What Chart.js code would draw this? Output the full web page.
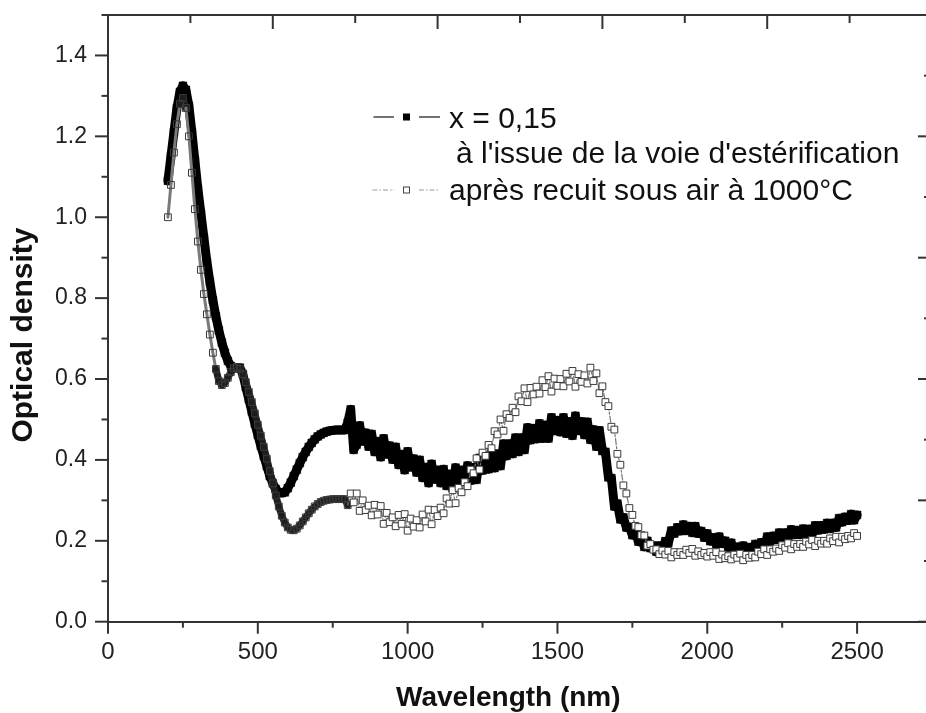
<!DOCTYPE html>
<html><head><meta charset="utf-8">
<script src="https://cdn.jsdelivr.net/npm/chart.js@4.4.1/dist/chart.umd.min.js"></script>
<style>html,body{margin:0;padding:0;overflow:hidden;background:#fff}#wrap{position:relative;width:940px;height:713px}</style>
</head><body><div id="wrap"><canvas id="c"></canvas></div>
<script>
// ---- data ----
const wavelengths = [
 200,210,220,230,240,250,260,270,280,290, 300,310,320,330,340,350,360,370,380,390,
 400,410,420,430,440,450,460,470,480,490, 500,510,520,530,540,550,560,570,580,590,
 600,610,620,630,640,650,660,670,680,690, 700,710,720,730,740,750,760,770,780,790,
 800,810,820,830,840,850,860,870,880,890, 900,910,920,930,940,950,960,970,980,990,
 1000,1010,1020,1030,1040,1050,1060,1070,1080,1090, 1100,1110,1120,1130,1140,1150,1160,1170,1180,1190,
 1200,1210,1220,1230,1240,1250,1260,1270,1280,1290, 1300,1310,1320,1330,1340,1350,1360,1370,1380,1390,
 1400,1410,1420,1430,1440,1450,1460,1470,1480,1490, 1500,1510,1520,1530,1540,1550,1560,1570,1580,1590,
 1600,1610,1620,1630,1640,1650,1660,1670,1680,1690, 1700,1710,1720,1730,1740,1750,1760,1770,1780,1790,
 1800,1810,1820,1830,1840,1850,1860,1870,1880,1890, 1900,1910,1920,1930,1940,1950,1960,1970,1980,1990,
 2000,2010,2020,2030,2040,2050,2060,2070,2080,2090, 2100,2110,2120,2130,2140,2150,2160,2170,2180,2190,
 2200,2210,2220,2230,2240,2250,2260,2270,2280,2290, 2300,2310,2320,2330,2340,2350,2360,2370,2380,2390,
 2400,2410,2420,2430,2440,2450,2460,2470,2480,2490, 2500
];
// x = 0,15 as obtained by the esterification route
const odEsterification = [
 1.09,1.15,1.21,1.27,1.31,1.325,1.315,1.275,1.21,1.14,
 1.07,1.01,0.95,0.89,0.84,0.795,0.755,0.72,0.69,0.665,
 0.645,0.632,0.627,0.628,0.628,0.612,0.58,0.55,0.52,0.49,
 0.462,0.435,0.41,0.385,0.36,0.342,0.328,0.32,0.318,0.32,
 0.33,0.344,0.36,0.376,0.392,0.407,0.42,0.432,0.442,0.451,
 0.458,0.463,0.467,0.47,0.472,0.473,0.474,0.474,0.474,0.474,
 0.492,0.525,0.425,0.438,0.485,0.446,0.467,0.433,0.464,0.42,
 0.446,0.407,0.453,0.414,0.435,0.401,0.432,0.388,0.414,0.375,
 0.421,0.382,0.403,0.369,0.4,0.356,0.382,0.343,0.39,0.352,
 0.375,0.343,0.377,0.336,0.365,0.33,0.381,0.348,0.375,0.348,
 0.386,0.349,0.382,0.351,0.405,0.374,0.403,0.377,0.416,0.38,
 0.415,0.385,0.44,0.41,0.44,0.415,0.455,0.42,0.455,0.425,
 0.48,0.449,0.478,0.452,0.49,0.453,0.486,0.453,0.505,0.472,
 0.498,0.469,0.505,0.465,0.495,0.46,0.509,0.472,0.495,0.462,
 0.494,0.45,0.475,0.433,0.473,0.422,0.42,0.357,0.355,0.285,
 0.292,0.253,0.258,0.233,0.234,0.214,0.221,0.198,0.204,0.185,
 0.2,0.182,0.188,0.173,0.188,0.177,0.199,0.195,0.225,0.218,
 0.233,0.224,0.24,0.225,0.236,0.22,0.236,0.218,0.224,0.208,
 0.218,0.199,0.208,0.192,0.21,0.193,0.2,0.184,0.195,0.176,
 0.185,0.169,0.188,0.173,0.184,0.174,0.192,0.18,0.196,0.186,
 0.21,0.199,0.212,0.203,0.22,0.206,0.22,0.207,0.228,0.215,
 0.226,0.215,0.23,0.215,0.229,0.216,0.238,0.226,0.238,0.228,
 0.244,0.23,0.244,0.233,0.256,0.246,0.259,0.25,0.266,0.251,
 0.264
];
// after annealing in air at 1000 °C
const odAnnealed = [
 1.0,1.08,1.16,1.23,1.28,1.295,1.27,1.2,1.11,1.02,
 0.94,0.87,0.81,0.76,0.71,0.665,0.625,0.595,0.585,0.59,
 0.603,0.617,0.627,0.63,0.625,0.612,0.592,0.568,0.543,0.515,
 0.487,0.46,0.432,0.403,0.372,0.342,0.312,0.285,0.262,0.245,
 0.233,0.227,0.226,0.23,0.238,0.248,0.258,0.268,0.277,0.285,
 0.291,0.296,0.299,0.301,0.302,0.303,0.303,0.303,0.303,0.303,
 0.288,0.317,0.295,0.317,0.274,0.3,0.276,0.287,0.263,0.289,
 0.265,0.286,0.242,0.269,0.246,0.258,0.236,0.264,0.242,0.266,
 0.225,0.255,0.235,0.251,0.233,0.265,0.248,0.277,0.241,0.276,
 0.261,0.282,0.268,0.305,0.292,0.325,0.293,0.331,0.32,0.345,
 0.335,0.376,0.367,0.404,0.376,0.418,0.41,0.437,0.429,0.471,
 0.463,0.5,0.472,0.513,0.504,0.529,0.518,0.557,0.545,0.577,
 0.543,0.578,0.562,0.581,0.564,0.597,0.58,0.607,0.569,0.601,
 0.583,0.6,0.582,0.613,0.594,0.62,0.581,0.612,0.593,0.609,
 0.589,0.628,0.595,0.614,0.565,0.582,0.543,0.533,0.482,0.475,
 0.415,0.388,0.337,0.317,0.281,0.264,0.237,0.234,0.214,0.213,
 0.188,0.192,0.178,0.179,0.167,0.176,0.166,0.175,0.159,0.172,
 0.165,0.172,0.165,0.178,0.17,0.18,0.163,0.174,0.165,0.17,
 0.161,0.172,0.163,0.172,0.155,0.166,0.157,0.162,0.154,0.166,
 0.158,0.168,0.152,0.165,0.158,0.165,0.159,0.173,0.167,0.179,
 0.165,0.179,0.173,0.181,0.175,0.189,0.183,0.194,0.179,0.192,
 0.185,0.192,0.185,0.198,0.191,0.202,0.187,0.2,0.193,0.2,
 0.193,0.206,0.199,0.21,0.196,0.21,0.204,0.212,0.206,0.219,
 0.212
];
const xMajorTicks = [0, 500, 1000, 1500, 2000, 2500];
const yMajorTicks = [0.0, 0.2, 0.4, 0.6, 0.8, 1.0, 1.2, 1.4];
const legendLines = ["x = 0,15", "à l'issue de la voie d'estérification", "après recuit sous air à 1000°C"];
const xTitle = "Wavelength (nm)";
const yTitle = "Optical density";

// ---- styling ----
const FONT = '"Liberation Sans", Arial, Helvetica, sans-serif';
const AX = '#333';
const DETECTOR_SWITCH = 800; // UV-vis / NIR detector change in the spectrometer
const isMajorX = v => xMajorTicks.includes(v);
const isMajorY = v => yMajorTicks.some(t => Math.abs(t - v) < 1e-6);
const fixBox = (w, h) => s => {
  if (w !== null) s.width = w;
  if (h !== null) s.height = h;
  s.paddingTop = 0; s.paddingBottom = 0; s.paddingLeft = 0; s.paddingRight = 0;
};

const tickPlugin = {
  id: 'manualTicks',
  afterDraw(chart) {
    const {ctx, chartArea: a, scales} = chart;
    ctx.save();
    ctx.strokeStyle = AX; ctx.lineWidth = 2;
    const seg = (x1, y1, x2, y2) => { ctx.beginPath(); ctx.moveTo(x1, y1); ctx.lineTo(x2, y2); ctx.stroke(); };
    scales.x.ticks.forEach(t => { const p = scales.x.getPixelForValue(t.value); seg(p, a.bottom, p, a.bottom + (isMajorX(t.value) ? 12 : 6)); });
    scales.x2.ticks.forEach(t => { const p = scales.x2.getPixelForValue(t.value); seg(p, a.top, p, a.top + (t.value % 500 === 0 ? 14 : 8)); });
    scales.y.ticks.forEach(t => { const p = scales.y.getPixelForValue(t.value); seg(a.left - (isMajorY(t.value) ? 13 : 6.5), p, a.left, p); });
    scales.y2.ticks.forEach(t => { const p = scales.y2.getPixelForValue(t.value); seg(a.right - (Number.isInteger(t.value) ? 14 : 8), p, a.right, p); });
    ctx.restore();
  }
};

const legendPlugin = {
  id: 'textLegend',
  afterDraw(chart) {
    const ctx = chart.ctx;
    ctx.save();
    const seg = (x1, y1, x2, y2) => { ctx.beginPath(); ctx.moveTo(x1, y1); ctx.lineTo(x2, y2); ctx.stroke(); };
    ctx.strokeStyle = '#444'; ctx.lineWidth = 1.5; ctx.setLineDash([]);
    seg(373.5, 117, 394, 117); seg(419, 117, 440, 117);
    ctx.fillStyle = '#000'; ctx.fillRect(403, 113.5, 7, 7);
    ctx.strokeStyle = '#999'; ctx.lineWidth = 1.2; ctx.setLineDash([5, 2, 1.5, 2]);
    seg(372.5, 190, 394, 190); seg(419, 190, 440, 190);
    ctx.setLineDash([]); ctx.strokeStyle = '#444'; ctx.lineWidth = 1;
    ctx.strokeRect(403.5, 187, 6, 6);
    ctx.fillStyle = '#111'; ctx.font = '30px ' + FONT; ctx.textBaseline = 'alphabetic'; ctx.textAlign = 'left';
    ctx.fillText(legendLines[0], 449, 127.5);
    ctx.fillText(legendLines[1], 456, 163);
    ctx.fillText(legendLines[2], 449, 199.5);
    ctx.restore();
  }
};

const inUV = c => c.p1.parsed.x <= DETECTOR_SWITCH;
const steep = c => Math.abs(c.p1.parsed.y - c.p0.parsed.y) > 0.035;

new Chart(document.getElementById('c'), {
  type: 'line',
  data: {
    datasets: [
      {
        label: legendLines[2],
        data: wavelengths.map((w, i) => ({x: w, y: odAnnealed[i]})),
        order: 0,
        borderColor: '#777', borderWidth: 1.2, borderDash: [6, 2, 2, 2],
        borderJoinStyle: 'round', borderCapStyle: 'round',
        segment: {
          borderColor: c => inUV(c) ? (steep(c) ? '#7a7a7a' : '#1e1e1e') : '#777',
          borderWidth: c => inUV(c) ? (steep(c) ? 3 : 7) : 1.2,
          borderDash: c => inUV(c) ? [] : [6, 2, 2, 2]
        },
        pointStyle: 'rect', pointRadius: 4.8,
        pointBackgroundColor: c => (c.raw && c.raw.x > DETECTOR_SWITCH) ? '#fff' : 'rgba(255,255,255,0)',
        pointBorderColor: '#3a3a3a', pointBorderWidth: 1,
        tension: 0
      },
      {
        label: legendLines[0],
        data: wavelengths.map((w, i) => ({x: w, y: odEsterification[i]})),
        order: 1,
        borderColor: '#000', borderWidth: 9,
        borderJoinStyle: 'round', borderCapStyle: 'round',
        pointStyle: 'rect', pointRadius: 5.5,
        pointBackgroundColor: '#000', pointBorderColor: '#000', pointBorderWidth: 0.5,
        tension: 0
      }
    ]
  },
  options: {
    responsive: true, maintainAspectRatio: false, animation: false, events: [],
    layout: {padding: 0},
    plugins: {legend: {display: false}, tooltip: {enabled: false}},
    scales: {
      x: {
        type: 'linear', axis: 'x', position: 'bottom', min: 0, max: 2750,
        afterFit: fixBox(null, 91.3),
        grid: {display: false, drawTicks: false, tickLength: 0},
        border: {display: true, color: AX, width: 2},
        ticks: {stepSize: 250, autoSkip: false, maxRotation: 0, padding: 16.4, color: '#222',
          font: {family: FONT, size: 24},
          callback: v => isMajorX(v) ? String(v) : ''},
        title: {display: true, text: xTitle + '   ', color: '#111',
          font: {family: FONT, size: 28, weight: 'bold', lineHeight: 1}, padding: {top: 0, bottom: 1}}
      },
      x2: {
        type: 'linear', axis: 'x', position: 'top', min: 0, max: 2500,
        afterFit: fixBox(null, 15),
        grid: {display: false, drawTicks: false, tickLength: 0},
        border: {display: true, color: AX, width: 2},
        ticks: {display: false, stepSize: 250, autoSkip: false}
      },
      y: {
        type: 'linear', axis: 'y', position: 'left', min: 0, max: 1.5,
        afterFit: fixBox(108, null),
        grid: {display: false, drawTicks: false, tickLength: 0},
        border: {display: true, color: AX, width: 2},
        ticks: {stepSize: 0.1, autoSkip: false, padding: 21, color: '#222',
          font: {family: FONT, size: 23},
          callback: v => isMajorY(v) ? v.toFixed(1) : ''},
        title: {display: true, text: yTitle + '    ', color: '#111',
          font: {family: FONT, size: 30, weight: 'bold', lineHeight: 1}, padding: {top: 9, bottom: 0}}
      },
      y2: {
        type: 'linear', axis: 'y', position: 'right', min: 0, max: 5,
        afterFit: fixBox(8, null),
        grid: {display: false, drawTicks: false, tickLength: 0},
        border: {display: true, color: AX, width: 2},
        ticks: {display: false, stepSize: 0.5, autoSkip: false}
      }
    }
  },
  plugins: [tickPlugin, legendPlugin]
});
</script>
</body></html>
